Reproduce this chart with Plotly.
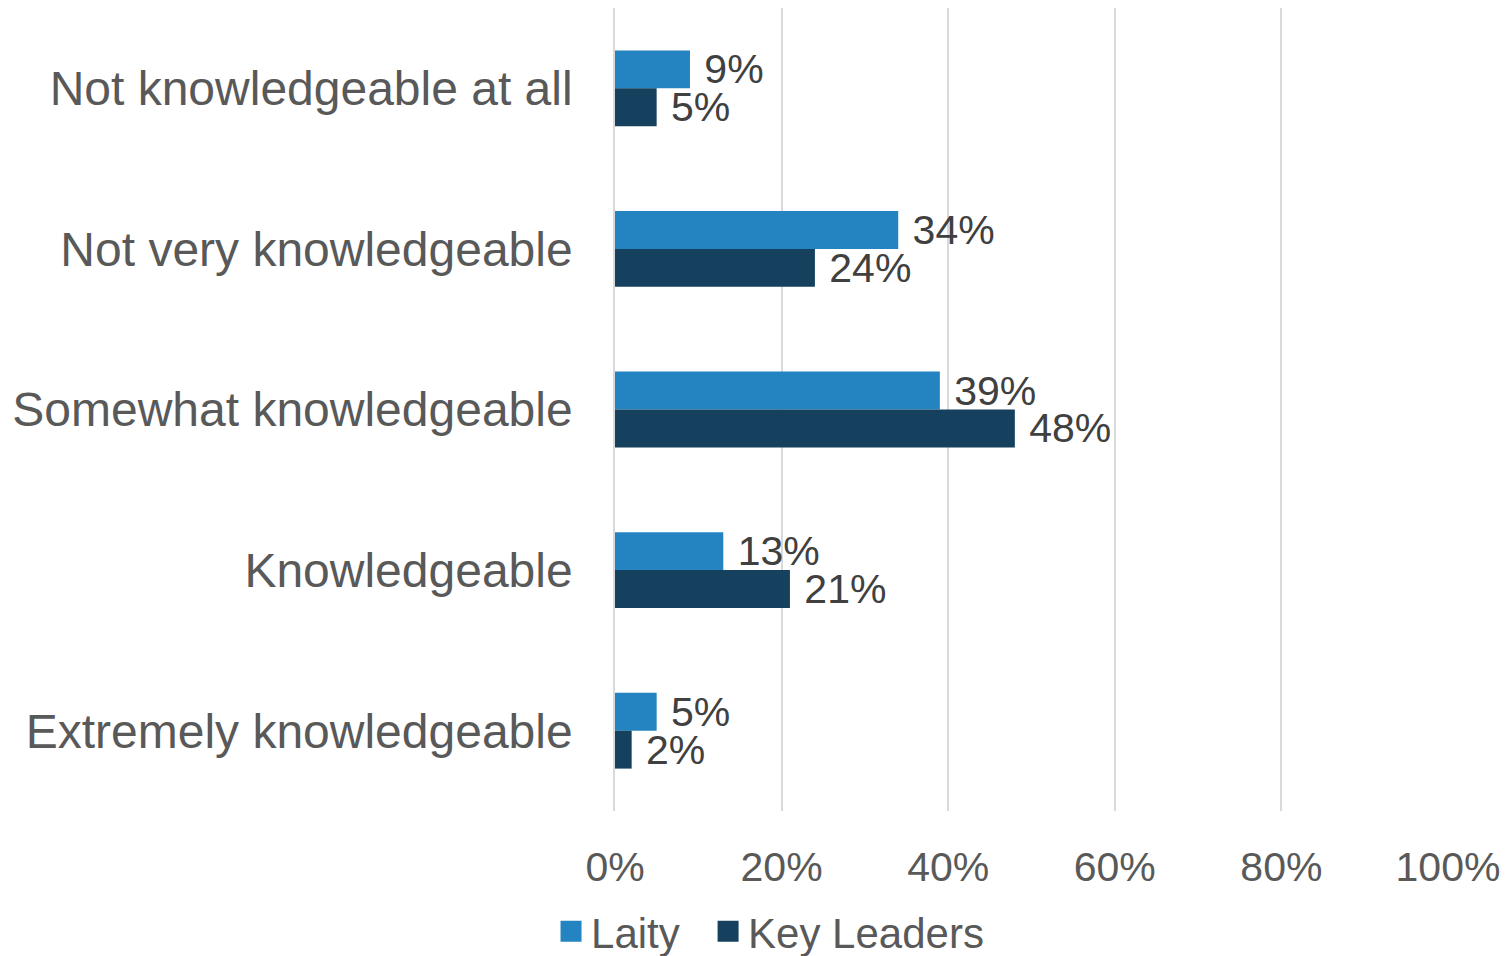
import plotly.graph_objects as go

categories = [
    "Not knowledgeable at all",
    "Not very knowledgeable",
    "Somewhat knowledgeable",
    "Knowledgeable",
    "Extremely knowledgeable",
]
laity = [0.09, 0.34, 0.39, 0.13, 0.05]
key_leaders = [0.05, 0.24, 0.48, 0.21, 0.02]
x_ticks = [0, 0.2, 0.4, 0.6, 0.8, 1.0]
x_tick_labels = ["0%", "20%", "40%", "60%", "80%", "100%"]

LAITY_COLOR = "#2484C1"
LEADER_COLOR = "#15405E"
FONT = "Liberation Sans, Arial, sans-serif"
NBSP = "\u00a0"

fig = go.Figure()

for name, vals, color in [
    ("Laity", laity, LAITY_COLOR),
    ("Key Leaders", key_leaders, LEADER_COLOR),
]:
    fig.add_trace(
        go.Bar(
            y=categories,
            x=vals,
            orientation="h",
            name=name,
            marker={"color": color, "line": {"width": 0}},
            text=[f"{NBSP}{round(v * 100)}%" for v in vals],
            textposition="outside",
            textfont={"size": 41, "color": "#404040", "family": FONT},
            constraintext="none",
            cliponaxis=False,
            showlegend=False,
        )
    )
    # separate legend entries so the squares can be sized
    fig.add_trace(
        go.Scatter(
            x=[None],
            y=[None],
            mode="markers",
            name=name + NBSP * 2 if name == "Laity" else name,
            marker={
                "symbol": "square",
                "size": 16,
                "color": color,
                "line": {"color": color, "width": 5},
            },
        )
    )

# the page body adds an 8px offset, so the figure is sized to fit the window
fig.update_layout(
    width=1503,
    height=948,
    barmode="group",
    bargap=0.528,
    bargroupgap=0,
    plot_bgcolor="white",
    paper_bgcolor="white",
    margin={"l": 607, "r": 63, "t": 0, "b": 145, "autoexpand": False},
    font={"family": FONT, "color": "#595959"},
    legend={
        "orientation": "h",
        "xref": "container",
        "x": 0.507,
        "xanchor": "center",
        "yref": "paper",
        "y": -0.15,
        "yanchor": "middle",
        "font": {"size": 42, "color": "#595959"},
        "itemwidth": 30,
        "tracegroupgap": 0,
    },
)

fig.update_xaxes(
    range=[0, 1],
    tickvals=x_ticks,
    ticktext=x_tick_labels,
    tickfont={"size": 41},
    showgrid=True,
    gridcolor="#D9D9D9",
    gridwidth=1.5,
    zeroline=False,
    showline=False,
    ticks="",
    ticklabelstandoff=28,
    automargin=False,
)
fig.update_yaxes(
    autorange="reversed",
    tickfont={"size": 48},
    showgrid=False,
    ticks="",
    showline=True,
    linecolor="#D9D9D9",
    linewidth=1.5,
    ticklabelstandoff=31,
    automargin=False,
)

fig.write_html("out.html")
